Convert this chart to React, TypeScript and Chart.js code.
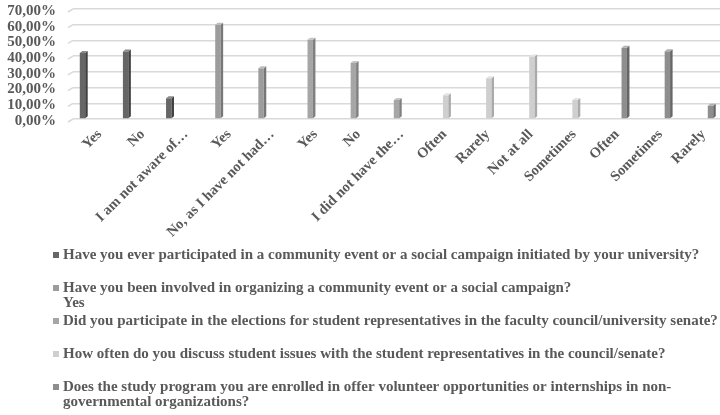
import React, { useEffect, useRef } from 'react';
import { Chart, registerables } from 'chart.js';

Chart.register(...registerables);

// ---------- data ----------
const categories: string[] = [
  'Yes', 'No', 'I am not aware of…',
  'Yes', 'No, as I have not had…',
  'Yes', 'No', 'I did not have the…',
  'Often', 'Rarely', 'Not at all', 'Sometimes',
  'Often', 'Sometimes', 'Rarely',
];

const communityEventParticipation: (number | null)[] = [42, 43, 13.2, null, null, null, null, null, null, null, null, null, null, null, null];
const organizingInvolvement: (number | null)[] = [null, null, null, 60, 32.3, null, null, null, null, null, null, null, null, null, null];
const electionParticipation: (number | null)[] = [null, null, null, null, null, 50.5, 35.7, 12.1, null, null, null, null, null, null, null];
const discussionFrequency: (number | null)[] = [null, null, null, null, null, null, null, null, 15.1, 26, 39.8, 12.1, null, null, null];
const volunteerOpportunities: (number | null)[] = [null, null, null, null, null, null, null, null, null, null, null, null, 45.3, 43.1, 8.5];

const seriesLegendLines: string[][] = [
  ['Have you ever participated in a community event or a social campaign initiated by your university?'],
  ['Have you been involved in organizing a community event or a social campaign?', 'Yes'],
  ['Did you participate in the elections for student representatives in the faculty council/university senate?'],
  ['How often do you discuss student issues with the student representatives in the council/senate?'],
  ['Does the study program you are enrolled in offer volunteer opportunities or internships in non-', 'governmental organizations?'],
];

const yTickLabels: string[] = ['0,00%', '10,00%', '20,00%', '30,00%', '40,00%', '50,00%', '60,00%', '70,00%'];

// ---------- styles ----------
const FONT_FAMILY = '"Liberation Serif", "Times New Roman", serif';
const TEXT_COLOR = '#595959';
const GRID_COLOR = '#d9d9d9';
const frontColors = ['#666666', '#9c9c9c', '#a6a6a6', '#cfcfcf', '#8e8e8e'];
const sideColors = ['#404040', '#777777', '#808080', '#aaaaaa', '#666666'];
const topColors = ['#8a8a8a', '#bdbdbd', '#c4c4c4', '#e4e4e4', '#b0b0b0'];

const seriesValues = [
  communityEventParticipation,
  organizingInvolvement,
  electionParticipation,
  discussionFrequency,
  volunteerOpportunities,
];

const bar3dPlugin = {
  id: 'bar3d',
  beforeDatasetsDraw(chart: any) {
    const ctx = chart.ctx;
    const yScale = chart.scales.y;
    const left = chart.chartArea.left;
    ctx.save();
    ctx.strokeStyle = GRID_COLOR;
    ctx.lineWidth = 1.5;
    yScale.ticks.forEach((_t: any, i: number) => {
      const yp = yScale.getPixelForTick(i);
      ctx.beginPath();
      ctx.moveTo(left, yp);
      ctx.lineTo(left - 5, yp + 3);
      ctx.stroke();
    });
    ctx.restore();
  },
  afterDatasetsDraw(chart: any) {
    const ctx = chart.ctx;
    ctx.save();
    chart.data.datasets.forEach((ds: any, di: number) => {
      const meta = chart.getDatasetMeta(di);
      meta.data.forEach((el: any, idx: number) => {
        if (ds.data[idx] == null) return;
        const { x, y, base, width } = el.getProps(['x', 'y', 'base', 'width'], true);
        if (!isFinite(y)) return;
        const l = x - width / 2;
        const r = x + width / 2;
        const dx = 2.5;
        const dy = 2;
        ctx.fillStyle = sideColors[di];
        ctx.beginPath();
        ctx.moveTo(r, y);
        ctx.lineTo(r + dx, y - dy);
        ctx.lineTo(r + dx, base - dy);
        ctx.lineTo(r, base);
        ctx.closePath();
        ctx.fill();
        ctx.fillStyle = topColors[di];
        ctx.beginPath();
        ctx.moveTo(l, y);
        ctx.lineTo(l + dx, y - dy);
        ctx.lineTo(r + dx, y - dy);
        ctx.lineTo(r, y);
        ctx.closePath();
        ctx.fill();
      });
    });
    ctx.restore();
  },
};

const legendPlugin = {
  id: 'excelLegend',
  afterDraw(chart: any) {
    const ctx = chart.ctx;
    ctx.save();
    ctx.font = `bold 15px ${FONT_FAMILY}`;
    ctx.textBaseline = 'middle';
    ctx.textAlign = 'left';
    chart.data.datasets.forEach((_ds: any, i: number) => {
      const y0 = 255 + i * 33;
      ctx.fillStyle = frontColors[i];
      ctx.fillRect(53, y0 - 3, 6, 6);
      ctx.fillStyle = TEXT_COLOR;
      seriesLegendLines[i].forEach((line, j) => {
        ctx.fillText(line, 63, y0 + j * 15.5);
      });
    });
    ctx.restore();
  },
};

export default function App() {
  const canvasRef = useRef<HTMLCanvasElement | null>(null);

  useEffect(() => {
    if (!canvasRef.current) return;
    const chart = new Chart(canvasRef.current, {
      type: 'bar',
      data: {
        labels: categories,
        datasets: seriesValues.map((vals, i) => ({
          label: seriesLegendLines[i].join(' '),
          data: vals,
          backgroundColor: frontColors[i],
          borderWidth: 0,
          categoryPercentage: 0.7,
          barPercentage: 0.9,
        })),
      },
      options: {
        animation: false,
        responsive: true,
        maintainAspectRatio: false,
        layout: { padding: { top: 9, left: 0, right: 0, bottom: 165 } },
        plugins: {
          legend: { display: false },
          tooltip: { enabled: false },
        },
        scales: {
          x: {
            grid: { display: false, drawTicks: false },
            border: { display: false },
            ticks: {
              autoSkip: false,
              maxRotation: 45,
              minRotation: 45,
              padding: 7,
              labelOffset: 5,
              color: TEXT_COLOR,
              font: { family: FONT_FAMILY, size: 14.5, weight: 'bold' },
            },
            afterFit(scale: any) {
              scale.height = 131;
            },
          },
          y: {
            min: 0,
            max: 70,
            grid: { color: GRID_COLOR, lineWidth: 1.5, drawTicks: false },
            border: { display: false },
            ticks: {
              stepSize: 10,
              autoSkip: false,
              padding: 17,
              labelOffset: 2,
              color: TEXT_COLOR,
              font: { family: FONT_FAMILY, size: 15, weight: 'bold' },
              callback: (_v: any, index: number) => yTickLabels[index],
            },
            afterFit(scale: any) {
              scale.width = 73;
              scale.paddingTop = 0;
              scale.paddingBottom = 0;
            },
          },
        },
      },
      plugins: [bar3dPlugin, legendPlugin],
    } as any);
    return () => chart.destroy();
  }, []);

  return (
    <div style={{ position: 'absolute', left: 0, top: 0, width: 720, height: 415, background: '#ffffff' }}>
      <canvas ref={canvasRef} />
    </div>
  );
}
